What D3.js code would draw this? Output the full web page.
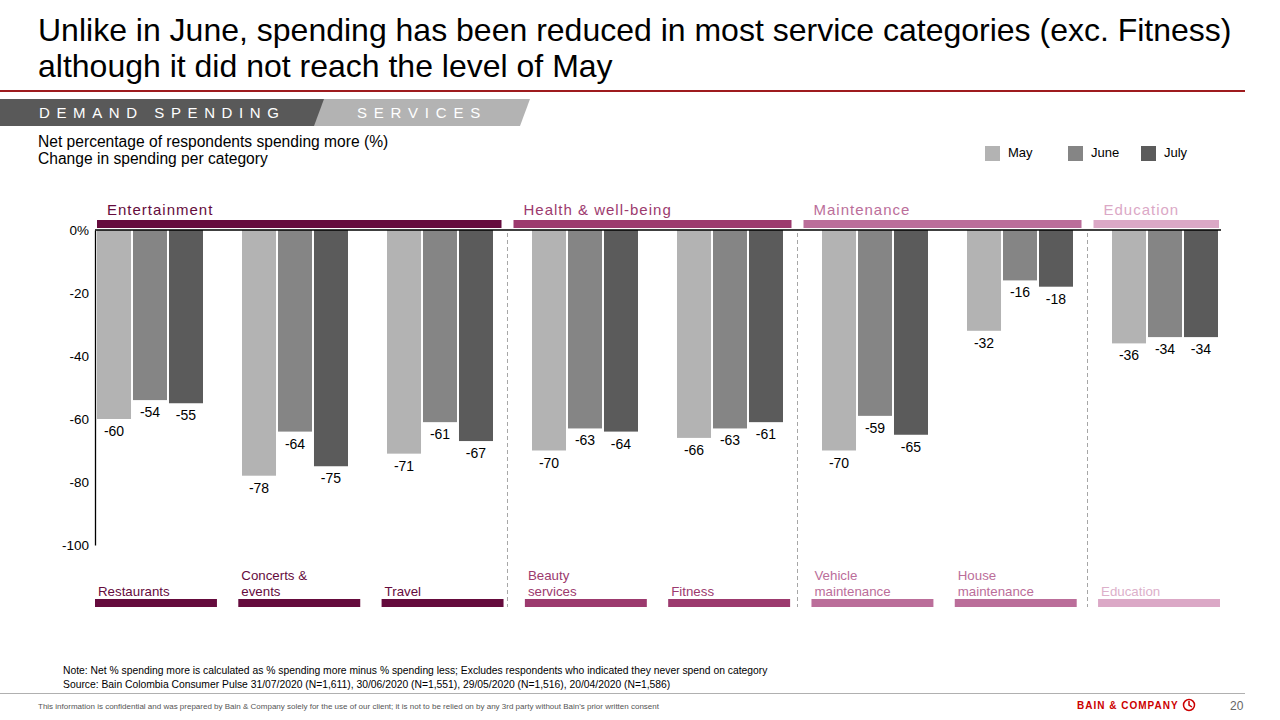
<!DOCTYPE html>
<html><head><meta charset="utf-8">
<script src="https://cdn.jsdelivr.net/npm/d3@7"></script>
<style>
body{margin:0;background:#fff;}
svg{display:block;font-family:"Liberation Sans",Arial,sans-serif;}
</style></head>
<body>
<svg id="c" width="1280" height="720"></svg>
<script>
// ---- data ----
const categories = ["Restaurants","Concerts & events","Travel","Beauty services","Fitness","Vehicle maintenance","House maintenance","Education"];
const categoryLabelLines = [["Restaurants"],["Concerts &","events"],["Travel"],["Beauty","services"],["Fitness"],["Vehicle","maintenance"],["House","maintenance"],["Education"]];
const groups = ["Entertainment","Health & well-being","Maintenance","Education"];
const categoryGroup = [0,0,0,1,1,2,2,3];
const series = ["May","June","July"];
const mayValues  = [-60,-78,-71,-70,-66,-70,-32,-36];
const juneValues = [-54,-64,-61,-63,-63,-59,-16,-34];
const julyValues = [-55,-75,-67,-64,-61,-65,-18,-34];
const yTicks = [0,-20,-40,-60,-80,-100];

const seriesColors = ["#b3b3b3","#858585","#5b5b5b"];
const groupColors = ["#650b3d","#9c3a6e","#bb6e9a","#dba8c6"];
const labelColors = ["#650b3d","#9c3a6e","#bb6e9a","#dcb0ca"];

const svg = d3.select("#c");

// ---- header ----
svg.append("text").attr("x",38).attr("y",41).attr("font-size",32).attr("fill","#000")
  .text("Unlike in June, spending has been reduced in most service categories (exc. Fitness)");
svg.append("text").attr("x",38).attr("y",77).attr("font-size",32).attr("fill","#000")
  .text("although it did not reach the level of May");
svg.append("rect").attr("x",0).attr("y",90).attr("width",1245).attr("height",2).attr("fill","#9e1b1e");

svg.append("path").attr("d","M0,99 L530,99 L520,126 L0,126 Z").attr("fill","#b3b3b3");
svg.append("path").attr("d","M0,99 L324,99 L314,126 L0,126 Z").attr("fill","#595959");
svg.append("text").attr("x",39).attr("y",118).attr("font-size",15).attr("letter-spacing",6.6)
  .attr("fill","#fff").text("DEMAND SPENDING");
svg.append("text").attr("x",357).attr("y",118).attr("font-size",15).attr("letter-spacing",6.8)
  .attr("fill","#fff").text("SERVICES");

svg.append("text").attr("x",38).attr("y",147).attr("font-size",15.6).text("Net percentage of respondents spending more (%)");
svg.append("text").attr("x",38).attr("y",164).attr("font-size",15.6).text("Change in spending per category");

// legend
const legX = [985,1068,1141];
series.forEach((s,i)=>{
  svg.append("rect").attr("x",legX[i]).attr("y",146).attr("width",15).attr("height",15).attr("fill",seriesColors[i]);
  svg.append("text").attr("x",legX[i]+23).attr("y",157).attr("font-size",13).text(s);
});

// ---- scales ----
const y = d3.scaleLinear().domain([0,-100]).range([230,545]);
const x0 = d3.scaleBand().domain(categories).range([97,1218]).paddingInner(0.269).paddingOuter(0);
const x1 = d3.scaleBand().domain(series).range([0,x0.bandwidth()]).paddingInner(0.055);
const xLab = d3.scaleBand().domain(categories).range([95,1220]).paddingInner(0.149).paddingOuter(0);

const valuesBySeries = [mayValues,juneValues,julyValues];
const table = categories.map((c,i)=>({cat:c, group:categoryGroup[i], vals:series.map((s,j)=>({s, v:valuesBySeries[j][i]}))}));

// group boundaries (dashed separators)
const boundaries = [];
for(let i=1;i<categories.length;i++){
  if(categoryGroup[i]!==categoryGroup[i-1]){
    const endPrev = x0(categories[i-1])+x0.bandwidth();
    const startNext = x0(categories[i]);
    boundaries.push((endPrev+startNext)/2-5);
  }
}
svg.selectAll("line.sep").data(boundaries).enter().append("line").attr("class","sep")
  .attr("x1",d=>d).attr("x2",d=>d).attr("y1",233).attr("y2",607)
  .attr("stroke","#a6a6a6").attr("stroke-width",1).attr("stroke-dasharray","4,3");

// group header bars
const leftEdge = x0.range()[0], rightEdge = 1219;
const groupSpans = groups.map((g,gi)=>{
  const a = gi===0 ? leftEdge : boundaries[gi-1]+6;
  const b = gi===groups.length-1 ? rightEdge : boundaries[gi]-6;
  return {g,gi,a,b};
});
svg.selectAll("rect.gbar").data(groupSpans).enter().append("rect")
  .attr("x",d=>d.a).attr("y",220).attr("width",d=>d.b-d.a).attr("height",8).attr("fill",d=>groupColors[d.gi]);
svg.selectAll("text.glab").data(groupSpans).enter().append("text")
  .attr("x",d=>d.a+10).attr("y",215).attr("font-size",15).attr("letter-spacing",1.0)
  .attr("fill",d=>groupColors[d.gi]).text(d=>d.g);

// bars
const cg = svg.selectAll("g.cat").data(table).enter().append("g")
  .attr("transform",d=>`translate(${x0(d.cat)},0)`);
cg.selectAll("rect").data(d=>d.vals).enter().append("rect")
  .attr("x",d=>x1(d.s)).attr("width",x1.bandwidth())
  .attr("y",y(0)).attr("height",d=>y(d.v)-y(0))
  .attr("fill",(d,i)=>seriesColors[i]);
cg.selectAll("text").data(d=>d.vals).enter().append("text")
  .attr("x",d=>x1(d.s)+x1.bandwidth()/2).attr("y",d=>y(d.v)+17)
  .attr("text-anchor","middle").attr("font-size",14).attr("fill","#000").text(d=>d.v);

// axes
const yAxis = d3.axisLeft(y).tickValues(yTicks).tickSize(0).tickPadding(6)
  .tickFormat(d=>d===0?"0%":d);
const ga = svg.append("g").attr("transform","translate(95,0)").call(yAxis);
ga.select(".domain").attr("stroke","#000").attr("stroke-width",1.3);
ga.selectAll("text").attr("font-size",13.5).attr("fill","#000").attr("font-family","Liberation Sans, Arial, sans-serif");
svg.append("line").attr("x1",95).attr("x2",1221).attr("y1",y(0)).attr("y2",y(0))
  .attr("stroke","#000").attr("stroke-width",1.5);

// bottom category labels
const bl = svg.selectAll("g.blab").data(table).enter().append("g")
  .attr("transform",d=>`translate(${xLab(d.cat)},0)`);
bl.append("rect").attr("x",0).attr("y",599).attr("width",xLab.bandwidth()).attr("height",8)
  .attr("fill",d=>groupColors[d.group]);
bl.each(function(d,i){
  const lines = categoryLabelLines[i];
  const t = d3.select(this).append("text").attr("font-size",13.3).attr("fill",labelColors[d.group]);
  lines.forEach((ln,k)=>{
    t.append("tspan").attr("x",3).attr("y",596-(lines.length-1-k)*16).text(ln);
  });
});

// footer
svg.append("text").attr("x",63).attr("y",674).attr("font-size",10.33).attr("fill","#000")
  .text("Note: Net % spending more is calculated as % spending more minus % spending less; Excludes respondents who indicated they never spend on category");
svg.append("text").attr("x",63).attr("y",688).attr("font-size",10.33).attr("fill","#000")
  .text("Source: Bain Colombia Consumer Pulse 31/07/2020 (N=1,611), 30/06/2020 (N=1,551), 29/05/2020 (N=1,516), 20/04/2020 (N=1,586)");
svg.append("rect").attr("x",0).attr("y",693).attr("width",1245).attr("height",1).attr("fill","#b0b0b0");
svg.append("text").attr("x",38).attr("y",709).attr("font-size",8).attr("fill","#555")
  .text("This information is confidential and was prepared by Bain & Company solely for the use of our client; it is not to be relied on by any 3rd party without Bain's prior written consent");
svg.append("text").attr("x",1077).attr("y",709).attr("font-size",10).attr("font-weight","bold")
  .attr("letter-spacing",1).attr("fill","#cc0000").text("BAIN & COMPANY");
svg.append("circle").attr("cx",1189).attr("cy",705).attr("r",5.5).attr("fill","none").attr("stroke","#cc0000").attr("stroke-width",1.5);
svg.append("path").attr("d","M1189,701 L1189,705 L1192,707").attr("fill","none").attr("stroke","#cc0000").attr("stroke-width",1.5);
svg.append("text").attr("x",1230).attr("y",710).attr("font-size",12).attr("fill","#666").text("20");
</script>
</body></html>
